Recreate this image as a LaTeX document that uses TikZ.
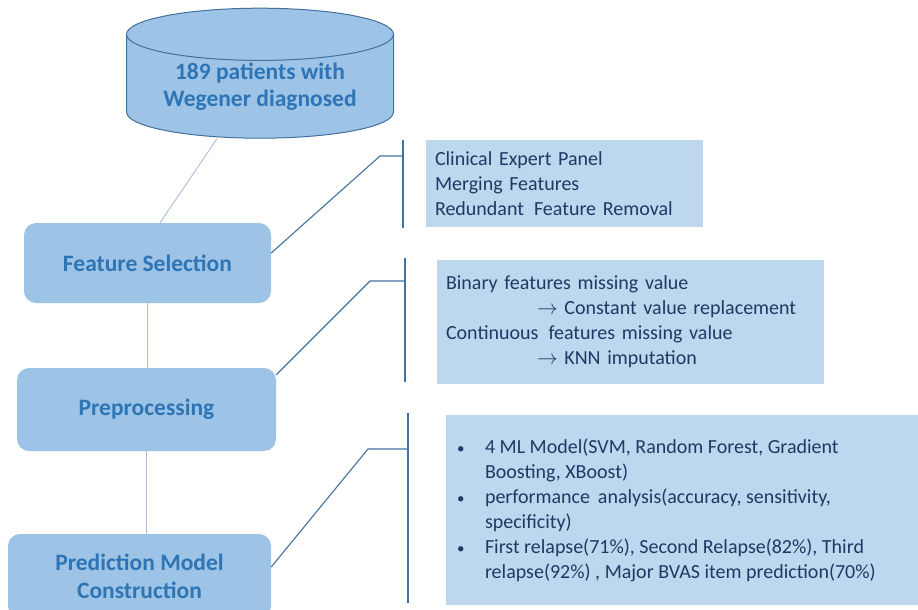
\documentclass[tikz,border=0pt]{standalone}
\usepackage{fontspec}
\setmainfont{Carlito}
\usetikzlibrary{shapes.geometric, positioning, calc}

\definecolor{stepfill}{HTML}{9DC3E6}
\definecolor{notefill}{HTML}{BDD7EE}
\definecolor{steptext}{HTML}{2E75B6}
\definecolor{notetext}{HTML}{203864}
\definecolor{bracketline}{HTML}{41719C}
\definecolor{flowline}{HTML}{A9BFD8}

\newcommand{\notebullet}{\hangindent=28pt\hangafter=1\makebox[28pt][l]{\fontsize{15}{15}\selectfont\textbullet}}

\tikzset{
  stepbox/.style={rectangle, rounded corners=12pt, fill=stepfill, text=steptext,
    font=\fontsize{23.5}{28}\selectfont\bfseries, align=center, inner sep=0pt},
  notebox/.style={rectangle, fill=notefill, text=notetext,
    font=\fontsize{20}{25}\selectfont, align=left, inner ysep=0pt},
  flow/.style={draw=flowline, line width=0.9pt},
  bracket/.style={draw=bracketline, line width=1.1pt}
}

\begin{document}
\begin{tikzpicture}[x=1pt, y=-1pt]
  \path[use as bounding box, clip] (0,0) rectangle (918,610);

  % data source
  \node[cylinder, shape border rotate=90, aspect=0.27, draw=bracketline, line width=1pt,
    fill=stepfill, text=steptext, minimum width=267pt, minimum height=130pt,
    font=\fontsize{23.5}{27}\selectfont\bfseries, align=center, inner sep=0pt]
    (data) at (260,86.5) {189 patients with\\Wegener diagnosed};

  % steps on the left
  \node[stepbox, minimum width=247pt, minimum height=80pt] (select) at (147.5,263) {Feature Selection};
  \node[stepbox, minimum width=259pt, minimum height=83pt] (prep) at (146.5,409.5) {Preprocessing};
  \node[stepbox, minimum width=263pt, minimum height=84pt] (model) at (139.5,576) {Prediction Model\\Construction};

  % notes on the right
  \node[notebox, text width=259pt, inner xsep=9pt, minimum height=87pt] (selnote) at (564.5,183.5)
    {Clinical Expert Panel\\Merging Features\\Redundant\, Feature Removal};
  \node[notebox, text width=369pt, inner xsep=9pt, minimum height=124pt] (prepnote) at (630.5,321.5)
    {Binary features missing value\\
     \hspace*{91pt}$\rightarrow$ Constant value replacement\\
     Continuous\, features missing value\\
     \hspace*{91pt}$\rightarrow$ KNN imputation};
  \node[notebox, text width=457pt, inner xsep=11pt, minimum height=190pt, align=none] (modelnote) at (685.5,510)
    {\notebullet 4 ML Model(SVM, Random Forest, Gradient\newline Boosting, XBoost)\par
     \notebullet performance\, analysis(accuracy, sensitivity,\newline specificity)\par
     \notebullet First relapse(71\%), Second Relapse(82\%), Third\newline relapse(92\%) , Major BVAS item prediction(70\%)\par};

  % flow between steps
  \draw[flow] ([xshift=-43pt]data.south) -- ([xshift=12.5pt]select.north);
  \draw[flow] (select.south) -- (select.south |- prep.north);
  \draw[flow] (prep.south) -- (prep.south |- model.north);

  % brackets to the notes
  \coordinate (kneeA) at (380,156);
  \coordinate (barA) at (403,156);
  \draw[bracket] (403,140) -- (403,228);
  \draw[bracket] ([yshift=10pt]select.east) -- (kneeA) -- (barA);

  \coordinate (kneeB) at (370,281);
  \coordinate (barB) at (405,281);
  \draw[bracket] (405,258) -- (405,382);
  \draw[bracket] ([yshift=-7pt]prep.north east) -- (kneeB) -- (barB);

  \coordinate (kneeC) at (368,449);
  \coordinate (barC) at (408,449);
  \draw[bracket] (408,413) -- (408,603);
  \draw[bracket] ([yshift=9pt]model.east) -- (kneeC) -- (barC);
\end{tikzpicture}
\end{document}
